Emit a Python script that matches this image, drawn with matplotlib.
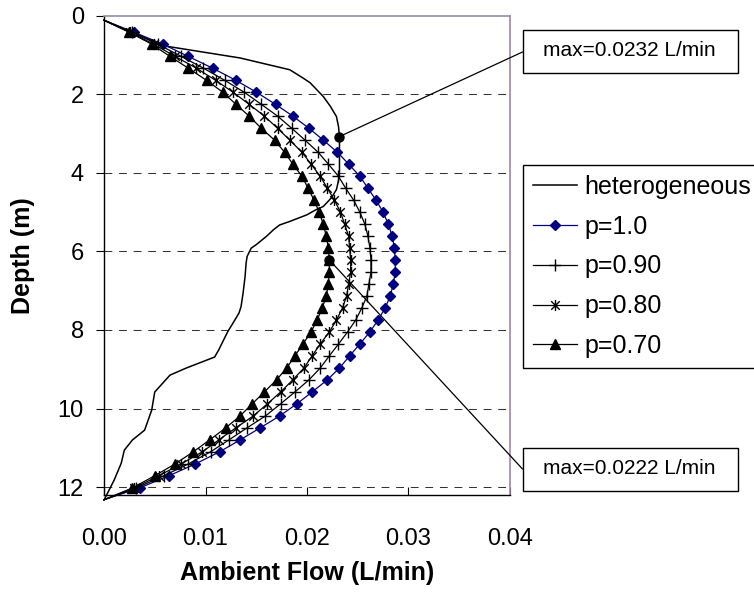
import numpy as np
import matplotlib
matplotlib.use('Agg')
import matplotlib.pyplot as plt
from matplotlib.path import Path
from matplotlib.patches import Rectangle

plt.rcParams['font.family'] = ['Liberation Sans', 'DejaVu Sans']

# depth grid of the model curves (m)
depth = [0.12, 0.43, 0.73, 1.04, 1.34, 1.65, 1.95, 2.26, 2.56, 2.87, 3.17, 3.48, 3.78, 4.09,
         4.39, 4.70, 5.00, 5.31, 5.61, 5.92, 6.22, 6.53, 6.83, 7.14, 7.44, 7.75, 8.05, 8.36,
         8.66, 8.97, 9.27, 9.58, 9.88, 10.19, 10.49, 10.80, 11.10, 11.41, 11.71, 12.02, 12.32]

# ambient flow (L/min)
p10 = [0.0000, 0.0030, 0.0058, 0.0083, 0.0107, 0.0130, 0.0150, 0.0169, 0.0186, 0.0202, 0.0216,
       0.0230, 0.0241, 0.0252, 0.0260, 0.0268, 0.0275, 0.0280, 0.0284, 0.0286, 0.0287, 0.0287,
       0.0285, 0.0282, 0.0277, 0.0270, 0.0262, 0.0252, 0.0242, 0.0232, 0.0220, 0.0205, 0.0190,
       0.0173, 0.0154, 0.0134, 0.0114, 0.0090, 0.0064, 0.0035, 0.0000]
p09 = [0.0000, 0.0028, 0.0053, 0.0076, 0.0098, 0.0119, 0.0138, 0.0155, 0.0171, 0.0185, 0.0198,
       0.0211, 0.0221, 0.0231, 0.0238, 0.0246, 0.0252, 0.0257, 0.0260, 0.0262, 0.0263, 0.0263,
       0.0261, 0.0259, 0.0254, 0.0248, 0.0240, 0.0231, 0.0222, 0.0213, 0.0202, 0.0188, 0.0174,
       0.0159, 0.0141, 0.0123, 0.0105, 0.0083, 0.0059, 0.0032, 0.0000]
p08 = [0.0000, 0.0026, 0.0049, 0.0070, 0.0091, 0.0110, 0.0127, 0.0143, 0.0158, 0.0171, 0.0183,
       0.0195, 0.0204, 0.0213, 0.0220, 0.0227, 0.0233, 0.0237, 0.0241, 0.0242, 0.0243, 0.0243,
       0.0241, 0.0239, 0.0235, 0.0229, 0.0222, 0.0213, 0.0205, 0.0197, 0.0186, 0.0174, 0.0161,
       0.0147, 0.0130, 0.0113, 0.0097, 0.0076, 0.0054, 0.0030, 0.0000]
p07 = [0.0000, 0.0025, 0.0047, 0.0065, 0.0083, 0.0101, 0.0117, 0.0130, 0.0143, 0.0155, 0.0168,
       0.0178, 0.0186, 0.0195, 0.0201, 0.0207, 0.0212, 0.0216, 0.0219, 0.0221, 0.0222, 0.0222,
       0.0221, 0.0219, 0.0215, 0.0210, 0.0204, 0.0196, 0.0188, 0.0180, 0.0170, 0.0158, 0.0146,
       0.0134, 0.0120, 0.0104, 0.0088, 0.0070, 0.0050, 0.0028, 0.0000]

het_depth = [0.12, 0.43, 0.78, 1.08, 1.38, 1.59, 1.71, 2.06, 2.31, 2.57, 2.82, 3.08, 3.60, 4.09,
             4.43, 4.64, 4.86, 4.94, 5.07, 5.24, 5.33, 5.45, 5.62, 5.83, 5.92, 6.13, 6.30, 6.64,
             7.07, 7.41, 7.57, 7.83, 8.04, 8.30, 8.51, 8.69, 8.97, 9.15, 9.58, 10.04, 10.55,
             10.80, 11.06, 11.39, 11.82, 12.33]
het_flow = [0.0000, 0.0027, 0.0061, 0.0134, 0.0183, 0.0196, 0.0203, 0.0216, 0.0223, 0.0229,
            0.0231, 0.0232, 0.0232, 0.0232, 0.0229, 0.0224, 0.0216, 0.0209, 0.0200, 0.0183,
            0.0173, 0.0167, 0.0160, 0.0150, 0.0145, 0.0141, 0.0140, 0.0139, 0.0137, 0.0135,
            0.0133, 0.0127, 0.0122, 0.0117, 0.0113, 0.0109, 0.0081, 0.0065, 0.0050, 0.0047,
            0.0040, 0.0028, 0.0020, 0.0017, 0.0010, 0.0000]

xticks = [0.00, 0.01, 0.02, 0.03, 0.04]
yticks = [0, 2, 4, 6, 8, 10, 12]

# excel style star: x plus vertical bar
star = Path([(-1, -1), (1, 1), (-1, 1), (1, -1), (0, -1.3), (0, 1.3)],
            [Path.MOVETO, Path.LINETO, Path.MOVETO, Path.LINETO, Path.MOVETO, Path.LINETO])

W, H = 754, 592
fig = plt.figure(figsize=(W / 100, H / 100), dpi=100)
ax = fig.add_axes([104 / W, 1 - 495 / H, (510 - 104) / W, (495 - 15.5) / H])

ax.plot(het_flow, het_depth, color='black', lw=1.1, label='heterogeneous', clip_on=False, zorder=3)
mk = slice(1, -1)
ax.plot(p10, depth, color='#000080', lw=0.9, marker='D', ms=5.5, mfc='#000080', mec='#000080',
        markevery=mk, label='p=1.0', clip_on=False, zorder=4)
ax.plot(p09, depth, color='black', lw=0.9, marker='+', ms=9, mew=1.0,
        markevery=mk, label='p=0.90', clip_on=False, zorder=4)
ax.plot(p08, depth, color='black', lw=0.9, marker=star, ms=8, mew=1.0,
        markevery=mk, label='p=0.80', clip_on=False, zorder=4)
ax.plot(p07, depth, color='black', lw=0.9, marker='^', ms=7.5, mfc='black', mec='black',
        markevery=mk, label='p=0.70', clip_on=False, zorder=4)

ax.set_xlim(0, 0.04)
ax.set_ylim(12.2, 0)
ax.set_xticks(xticks)
ax.set_xticklabels(['%.2f' % v for v in xticks])
ax.set_yticks(yticks)
ax.tick_params(axis='x', direction='in', length=6, width=0.8, pad=24, labelsize=17)
ax.tick_params(axis='y', direction='out', length=5.5, width=0.8, pad=9, labelsize=17)
for y in yticks[1:]:
    ax.axhline(y, color='#333333', lw=0.75, dashes=(7.5, 6.5), zorder=1)

for s in ['left', 'bottom']:
    ax.spines[s].set_color('black')
    ax.spines[s].set_linewidth(1.0)
for s in ['top', 'right']:
    ax.spines[s].set_color('#9a8aa6')
    ax.spines[s].set_linewidth(1.2)

ax.set_xlabel('Ambient Flow (L/min)', fontsize=18, fontweight='bold', labelpad=8)
ax.set_ylabel('Depth (m)', fontsize=18, fontweight='bold', labelpad=16)

leg = ax.legend(loc='upper left', bbox_to_anchor=(523 / W, 1 - 165 / H),
                bbox_transform=fig.transFigure, fontsize=18, frameon=True, fancybox=False,
                edgecolor='black', framealpha=1, handlelength=1.75, handletextpad=0.3,
                labelspacing=0.63, borderpad=0.4, borderaxespad=0, numpoints=1)
leg.get_frame().set_linewidth(1.0)

# max annotations
hi = int(np.argmax(het_flow))
pi = int(np.argmax(p07))
notes = [(het_flow[hi], het_depth[hi], 51, 52),
         (p07[pi], depth[pi], 469, 469)]
for xv, yv, cy, ly in notes:
    fig.patches.append(Rectangle((522.5 / W, 1 - (cy + 21.5) / H), 215 / W, 43 / H,
                                 transform=fig.transFigure, facecolor='white',
                                 edgecolor='black', lw=1.0, zorder=5))
    fig.text(629.5 / W, 1 - cy / H, 'max=%.4f L/min' % xv, ha='center', va='center',
             fontsize=15, zorder=6)
    ax.annotate('', xy=(xv, yv), xytext=(522.5 / W, 1 - ly / H), textcoords='figure fraction',
                arrowprops=dict(arrowstyle='-', color='black', lw=0.9, shrinkA=0, shrinkB=0),
                annotation_clip=False)
    ax.plot([xv], [yv], 'o', color='black', ms=6.5, zorder=6, clip_on=False)

fig.savefig('out.png', dpi=100)
